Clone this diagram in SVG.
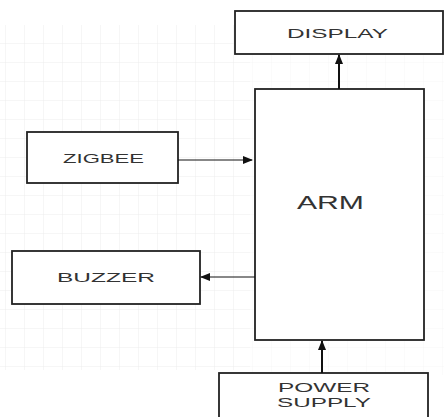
<svg xmlns="http://www.w3.org/2000/svg" width="444" height="417" viewBox="0 0 444 417">
<defs>
<pattern id="grid" width="19" height="19" patternUnits="userSpaceOnUse" x="6" y="6">
<path d="M19 0V19M0 19H19" fill="none" stroke="#ececec" stroke-width="1"/>
</pattern>
<marker id="ah" viewBox="0 0 10 10" refX="9" refY="5" markerWidth="10" markerHeight="10" markerUnits="userSpaceOnUse" orient="auto">
<path d="M0 1L10 5L0 9Z" fill="#111"/>
</marker>
</defs>
<style>
.box{fill:#fff;stroke:#222;stroke-width:1.8}
.t{font-family:"Liberation Sans",Arial,sans-serif;font-size:13.5px;fill:#333;text-anchor:start}
.c{fill:none;stroke:#111}
</style>
<rect width="444" height="417" fill="#fff"/>
<rect x="0" y="25" width="250" height="345" fill="url(#grid)"/>
<rect x="250" y="55" width="194" height="320" fill="url(#grid)" opacity="0.5"/>
<g id="display">
<rect class="box" x="235" y="11" width="208" height="43"/>
<text class="t" x="287" y="38" textLength="101" lengthAdjust="spacingAndGlyphs">DISPLAY</text>
</g>
<g id="arm">
<rect class="box" x="255" y="89" width="169" height="251"/>
<text class="t" x="297" y="209" style="font-size:19px" textLength="67" lengthAdjust="spacingAndGlyphs">ARM</text>
</g>
<g id="zigbee">
<rect class="box" x="27" y="132" width="151" height="51"/>
<text class="t" x="63" y="163" textLength="81" lengthAdjust="spacingAndGlyphs">ZIGBEE</text>
</g>
<g id="buzzer">
<rect class="box" x="12" y="251" width="188" height="53"/>
<text class="t" x="57" y="282" textLength="98" lengthAdjust="spacingAndGlyphs">BUZZER</text>
</g>
<g id="power">
<rect class="box" x="219" y="373" width="209" height="50"/>
<text class="t" x="278" y="392" textLength="92" lengthAdjust="spacingAndGlyphs">POWER</text>
<text class="t" x="277" y="407" textLength="94" lengthAdjust="spacingAndGlyphs">SUPPLY</text>
</g>
<g id="connectors">
<path class="c" d="M339 89V55" stroke-width="2" marker-end="url(#ah)"/>
<path class="c" d="M178 160H252" stroke-width="1" marker-end="url(#ah)"/>
<path class="c" d="M255 277H201" stroke-width="1" marker-end="url(#ah)"/>
<path class="c" d="M322 373V341" stroke-width="2" marker-end="url(#ah)"/>
</g>
</svg>
